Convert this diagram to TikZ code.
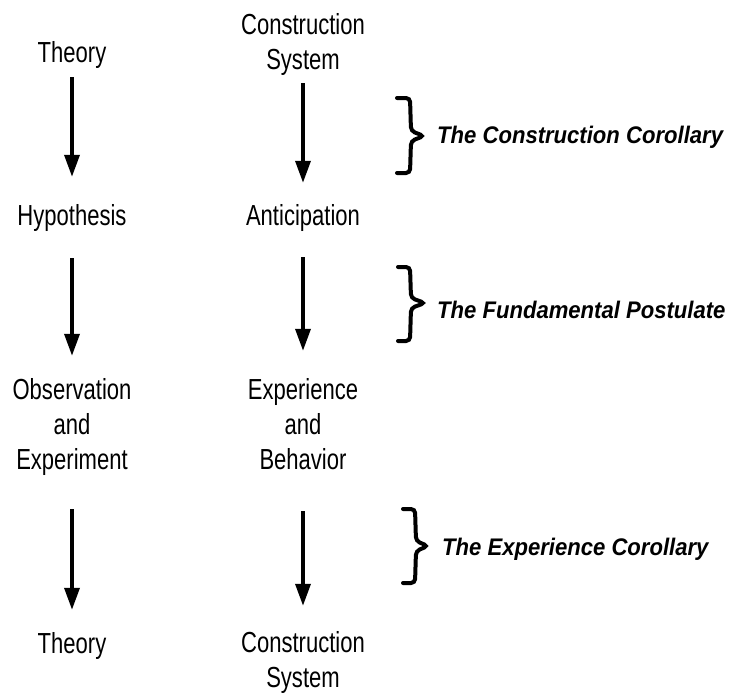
\documentclass[tikz,border=0pt]{standalone}
\usepackage{fontspec}
\setmainfont{Liberation Sans}[FakeStretch=0.76]
\newfontfamily\labfont{Liberation Sans}[FakeStretch=0.92]
\usetikzlibrary{arrows.meta}
\begin{document}
\begin{tikzpicture}[x=1pt,y=-1pt,
  term/.style={font=\fontsize{29}{35}\selectfont, align=center, inner sep=0pt, anchor=base},
  flow/.style={line width=3.5pt, -{Triangle[width=15pt,length=22pt]}},
  brc/.style={line width=4pt, rounded corners=4pt, line cap=round},
  lab/.style={font=\labfont\bfseries\itshape\fontsize{24}{28}\selectfont, inner sep=0pt, anchor=base west}]
\useasboundingbox[fill=white] (0,0) rectangle (736,693);
% left column (multi-line nodes: base = last line's baseline)
\node[term] (t1) at (72,63) {Theory};
\node[term] (h) at (72,225) {Hypothesis};
\node[term] (o) at (72,469) {Observation\\and\\Experiment};
\node[term] (t2) at (72,653) {Theory};
% right column
\node[term] (c1) at (303,70) {Construction\\System};
\node[term] (a) at (303,225) {Anticipation};
\node[term] (e) at (303,469) {Experience\\and\\Behavior};
\node[term] (c2) at (303,687) {Construction\\System};
% arrows
\draw[flow, shorten <=8pt, shorten >=27pt] (t1.south) -- (h.north);
\draw[flow, shorten <=27pt, shorten >=22pt] (h.south) -- (o.north);
\draw[flow, shorten <=34pt, shorten >=22pt] (o.south) -- (t2.north);
\draw[flow, shorten <=7pt, shorten >=21pt] (c1.south) -- (a.north);
\draw[flow, shorten <=26pt, shorten >=27pt] (a.south) -- (e.north);
\draw[flow, shorten <=42pt, shorten >=25pt] (e.south) -- (c2.north);
% braces
\draw[brc] (397,98) -- (410,98) -- (411,131) -- (424,136) -- (411,141) -- (410,173) -- (397,173);
\draw[brc] (398,267) -- (410,267) -- (411,298) -- (425,303) -- (411,308) -- (410,341) -- (398,341);
\draw[brc] (403,509) -- (415,509) -- (416,541) -- (428,546) -- (416,551) -- (415,583) -- (403,583);
% labels
\node[lab] (l1) at (437,143) {The Construction Corollary};
\node[lab] (l2) at (437,318) {The Fundamental Postulate};
\node[lab] (l3) at (442,555) {The Experience Corollary};
\end{tikzpicture}
\end{document}
